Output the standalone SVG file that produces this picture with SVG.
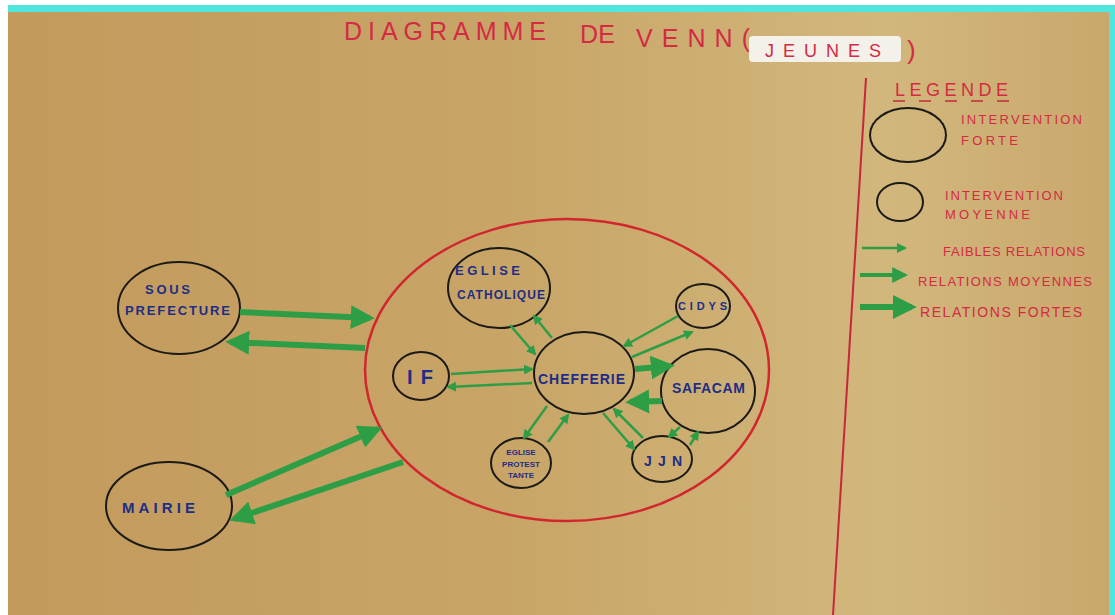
<svg xmlns="http://www.w3.org/2000/svg" width="1115" height="615" viewBox="0 0 1115 615">
<defs>
<linearGradient id="paper" x1="0" y1="0" x2="1" y2="0">
<stop offset="0" stop-color="#c29a5c"/>
<stop offset="0.45" stop-color="#c8a567"/>
<stop offset="0.8" stop-color="#d2b77c"/>
<stop offset="1" stop-color="#c9a86c"/>
</linearGradient>
<marker id="ah" viewBox="0 0 10 10" refX="8" refY="5" markerWidth="4" markerHeight="4" orient="auto" markerUnits="strokeWidth">
<path d="M0,0 L10,5 L0,10 Z" fill="#2e9e46"/>
</marker>
</defs>
<style>
.node{fill:none;stroke:#1c1a16;stroke-width:2}
.lbl{font-family:"Liberation Sans",Arial,sans-serif;font-weight:bold;fill:#1e2d86}
.red{font-family:"Liberation Sans",Arial,sans-serif;fill:#d42a44}
.thin{stroke:#2e9e46;stroke-width:2.5;fill:none;marker-end:url(#ah)}
.med{stroke:#2e9e46;stroke-width:4;fill:none;marker-end:url(#ah)}
.thick{stroke:#2e9e46;stroke-width:6;fill:none;marker-end:url(#ah)}
</style>
<rect x="0" y="0" width="1115" height="615" fill="#ffffff"/>
<rect x="8" y="5" width="1107" height="610" fill="#4fe6de"/>
<rect x="8" y="12" width="1101" height="603" fill="url(#paper)"/>

<g id="title">
<text class="red" x="344" y="40" font-size="25" textLength="202" lengthAdjust="spacing">DIAGRAMME</text>
<text class="red" x="580" y="43" font-size="25" textLength="35" lengthAdjust="spacing">DE</text>
<text class="red" x="636" y="47" font-size="25" textLength="114" lengthAdjust="spacing">VENN(</text>
<rect x="749" y="36" width="152" height="26" fill="#f4f0ea" rx="4"/>
<text class="red" x="765" y="57" font-size="18" textLength="116" lengthAdjust="spacing">JEUNES</text>
<text class="red" x="907" y="59" font-size="26">)</text>
</g>

<g id="legend">
<line x1="866" y1="78" x2="833" y2="615" stroke="#c6283a" stroke-width="2"/>
<text class="red" x="895" y="96" font-size="18" textLength="113" lengthAdjust="spacing">LEGENDE</text>
<line x1="893" y1="101" x2="1010" y2="101" stroke="#c6283a" stroke-width="1.5" stroke-dasharray="12,14"/>
<ellipse class="node" cx="908" cy="135" rx="38" ry="27" stroke-width="3"/>
<text class="red" x="961" y="124" font-size="13" textLength="121" lengthAdjust="spacing">INTERVENTION</text>
<text class="red" x="961" y="145" font-size="13" textLength="57" lengthAdjust="spacing">FORTE</text>
<ellipse class="node" cx="900" cy="202" rx="23" ry="19" stroke-width="3"/>
<text class="red" x="945" y="200" font-size="13" textLength="118" lengthAdjust="spacing">INTERVENTION</text>
<text class="red" x="945" y="219" font-size="13" textLength="85" lengthAdjust="spacing">MOYENNE</text>
<line class="thin" x1="862" y1="248" x2="905" y2="248"/>
<text class="red" x="943" y="256" font-size="13" textLength="142" lengthAdjust="spacing">FAIBLES RELATIONS</text>
<line class="med" x1="860" y1="275" x2="905" y2="275"/>
<text class="red" x="918" y="286" font-size="13" textLength="174" lengthAdjust="spacing">RELATIONS MOYENNES</text>
<line class="thick" x1="860" y1="307" x2="912" y2="307"/>
<text class="red" x="920" y="317" font-size="14" textLength="162" lengthAdjust="spacing">RELATIONS FORTES</text>
</g>

<g id="big-circle">
<ellipse cx="567" cy="370" rx="202" ry="151" fill="none" stroke="#d2262e" stroke-width="2.5"/>
</g>

<g id="sous-prefecture">
<ellipse class="node" cx="179" cy="308" rx="61" ry="46"/>
<text class="lbl" x="145" y="294" font-size="13" textLength="45" lengthAdjust="spacing">SOUS</text>
<text class="lbl" x="125" y="315" font-size="13" textLength="105" lengthAdjust="spacing">PREFECTURE</text>
</g>
<g id="mairie">
<ellipse class="node" cx="169" cy="506" rx="63" ry="44"/>
<text class="lbl" x="122" y="513" font-size="15" textLength="73" lengthAdjust="spacing">MAIRIE</text>
</g>
<g id="eglise-catholique">
<ellipse class="node" cx="499" cy="288" rx="51" ry="40"/>
<text class="lbl" x="455" y="275" font-size="13" textLength="65" lengthAdjust="spacing">EGLISE</text>
<text class="lbl" x="457" y="299" font-size="12" textLength="88" lengthAdjust="spacing">CATHOLIQUE</text>
</g>
<g id="cidys">
<ellipse class="node" cx="703" cy="306" rx="27" ry="22"/>
<text class="lbl" x="678" y="310" font-size="11" textLength="49" lengthAdjust="spacing">CIDYS</text>
</g>
<g id="if">
<ellipse class="node" cx="421" cy="376" rx="28" ry="24"/>
<text class="lbl" x="407" y="384" font-size="20" textLength="26" lengthAdjust="spacing">IF</text>
</g>
<g id="chefferie">
<ellipse class="node" cx="584" cy="373" rx="50" ry="41"/>
<text class="lbl" x="538" y="384" font-size="14" textLength="87" lengthAdjust="spacing">CHEFFERIE</text>
</g>
<g id="safacam">
<ellipse class="node" cx="708" cy="391" rx="47" ry="42"/>
<text class="lbl" x="672" y="393" font-size="14" textLength="73" lengthAdjust="spacing">SAFACAM</text>
</g>
<g id="eglise-protestante">
<ellipse class="node" cx="521" cy="463" rx="30" ry="25"/>
<text class="lbl" x="521" y="455" font-size="8" text-anchor="middle">EGLISE</text>
<text class="lbl" x="521" y="467" font-size="8" text-anchor="middle">PROTEST</text>
<text class="lbl" x="521" y="478" font-size="8" text-anchor="middle">TANTE</text>
</g>
<g id="jjn">
<ellipse class="node" cx="662" cy="459" rx="30" ry="23"/>
<text class="lbl" x="644" y="466" font-size="14" textLength="38" lengthAdjust="spacing">JJN</text>
</g>

<g id="connectors">
<line class="thick" x1="240" y1="312" x2="370" y2="318"/>
<line class="thick" x1="365" y1="348" x2="230" y2="342"/>
<line class="thick" x1="226" y1="495" x2="378" y2="429"/>
<line class="thick" x1="403" y1="462" x2="234" y2="519"/>
<line class="thin" x1="510" y1="325" x2="535" y2="354"/>
<line class="thin" x1="552" y1="338" x2="534" y2="316"/>
<line class="thin" x1="451" y1="374" x2="532" y2="369"/>
<line class="thin" x1="532" y1="383" x2="448" y2="387"/>
<line class="thin" x1="678" y1="316" x2="624" y2="346"/>
<line class="thin" x1="632" y1="357" x2="692" y2="332"/>
<line class="thick" x1="635" y1="369" x2="670" y2="366"/>
<line class="thick" x1="662" y1="401" x2="630" y2="402"/>
<line class="thin" x1="547" y1="406" x2="524" y2="438"/>
<line class="thin" x1="548" y1="442" x2="568" y2="415"/>
<line class="thin" x1="603" y1="413" x2="634" y2="449"/>
<line class="thin" x1="643" y1="438" x2="614" y2="409"/>
<line class="thin" x1="680" y1="427" x2="669" y2="437"/>
<line class="thin" x1="690" y1="445" x2="698" y2="432"/>
</g>
</svg>
